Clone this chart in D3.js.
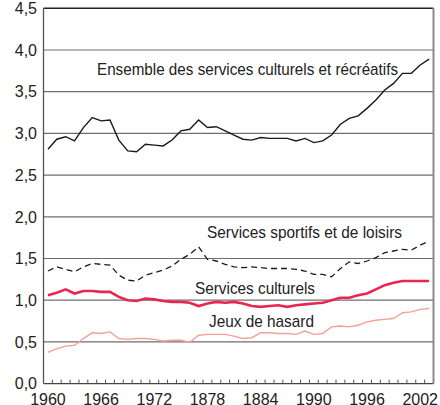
<!DOCTYPE html>
<html>
<head>
<meta charset="utf-8">
<script src="https://cdn.jsdelivr.net/npm/d3@7"></script>
<style>
  body { margin: 0; background: #fff; }
  svg { display: block; }
  .tick-label { font-family: "Liberation Sans", Arial, sans-serif; font-size: 16px; fill: #222; }
  .series-label { font-family: "Liberation Sans Narrow", "Liberation Sans", Arial, sans-serif; font-size: 17px; fill: #222; }
</style>
</head>
<body>
<svg id="chart" width="440" height="405"></svg>
<script>
const years = d3.range(1960, 2004);

const ensemble = [2.81, 2.93, 2.96, 2.91, 3.07, 3.19, 3.15, 3.16, 2.92, 2.79,
  2.78, 2.87, 2.86, 2.85, 2.92, 3.03, 3.05, 3.16, 3.07, 3.08,
  3.03, 2.98, 2.93, 2.92, 2.95, 2.94, 2.94, 2.94, 2.91, 2.94,
  2.89, 2.91, 2.98, 3.11, 3.18, 3.21, 3.30, 3.40, 3.52, 3.60,
  3.72, 3.72, 3.82, 3.89];

const sportifs = [1.35, 1.40, 1.37, 1.34, 1.40, 1.44, 1.43, 1.42, 1.30, 1.24,
  1.23, 1.30, 1.33, 1.36, 1.41, 1.49, 1.55, 1.64, 1.49, 1.47,
  1.43, 1.40, 1.39, 1.40, 1.39, 1.38, 1.38, 1.38, 1.37, 1.35,
  1.31, 1.31, 1.28, 1.38, 1.46, 1.44, 1.47, 1.51, 1.57, 1.59,
  1.61, 1.60, 1.66, 1.71];

const culturels = [1.06, 1.09, 1.13, 1.08, 1.11, 1.11, 1.10, 1.10, 1.04, 1.00,
  0.99, 1.02, 1.01, 0.99, 0.98, 0.98, 0.97, 0.93, 0.96, 0.98,
  0.97, 0.98, 0.96, 0.93, 0.92, 0.93, 0.94, 0.92, 0.94, 0.95,
  0.96, 0.97, 1.00, 1.03, 1.03, 1.06, 1.08, 1.13, 1.18, 1.21,
  1.23, 1.23, 1.23, 1.23];

const hasard = [0.375, 0.42, 0.45, 0.46, 0.54, 0.61, 0.60, 0.62, 0.54, 0.53,
  0.54, 0.54, 0.53, 0.51, 0.52, 0.52, 0.495, 0.58, 0.59, 0.59,
  0.59, 0.57, 0.54, 0.55, 0.61, 0.61, 0.60, 0.60, 0.59, 0.63,
  0.59, 0.60, 0.68, 0.69, 0.68, 0.70, 0.74, 0.76, 0.77, 0.78,
  0.85, 0.86, 0.89, 0.90];

const yTicks = [0, 0.5, 1, 1.5, 2, 2.5, 3, 3.5, 4, 4.5];
const xTickYears = [1960, 1966, 1972, 1978, 1984, 1990, 1996, 2002];
const xTickLabels = ['1960', '1966', '1972', '1878', '1884', '1990', '1996', '2002'];

const seriesNames = ['Ensemble des services culturels et récréatifs', 'Services sportifs et de loisirs', 'Services culturels', 'Jeux de hasard'];

const svg = d3.select('#chart');

const x = d3.scaleLinear()
  .domain([1959.5, 2003.5])
  .range([43.5, 433.5]);

const y = d3.scaleLinear()
  .domain([0, 4.5])
  .range([383.6, 8.3]);

// horizontal grid lines
svg.append('g')
  .selectAll('line')
  .data(yTicks.slice(1, -1))
  .enter()
  .append('line')
  .attr('x1', x(1959.5))
  .attr('x2', x(2003.5))
  .attr('y1', (d) => y(d))
  .attr('y2', (d) => y(d))
  .attr('stroke', '#6e6e6e')
  .attr('stroke-width', 1.2);

// frame: top dark, right gray
svg.append('line')
  .attr('x1', x(1959.5)).attr('x2', x(2003.5))
  .attr('y1', y(4.5)).attr('y2', y(4.5))
  .attr('stroke', '#222').attr('stroke-width', 1.6);

svg.append('line')
  .attr('x1', x(2003.5)).attr('x2', x(2003.5))
  .attr('y1', y(4.5)).attr('y2', y(0))
  .attr('stroke', '#8a8a8a').attr('stroke-width', 2);

// y axis
svg.append('line')
  .attr('x1', x(1959.5)).attr('x2', x(1959.5))
  .attr('y1', y(4.5)).attr('y2', y(0))
  .attr('stroke', '#555').attr('stroke-width', 1.3);

svg.append('g')
  .selectAll('text')
  .data(yTicks)
  .enter()
  .append('text')
  .attr('class', 'tick-label')
  .attr('x', 37)
  .attr('y', (d) => y(d))
  .attr('dy', '0.36em')
  .attr('text-anchor', 'end')
  .text((d) => d.toFixed(1).replace('.', ','));

// x axis with small inward ticks between years
svg.append('line')
  .attr('x1', x(1959.5)).attr('x2', x(2003.5))
  .attr('y1', y(0)).attr('y2', y(0))
  .attr('stroke', '#444').attr('stroke-width', 1.3);

svg.append('g')
  .selectAll('line')
  .data(d3.range(1960.5, 2003, 1))
  .enter()
  .append('line')
  .attr('x1', (d) => x(d))
  .attr('x2', (d) => x(d))
  .attr('y1', y(0))
  .attr('y2', y(0) - 4)
  .attr('stroke', '#555')
  .attr('stroke-width', 1);

svg.append('g')
  .selectAll('text')
  .data(xTickYears)
  .enter()
  .append('text')
  .attr('class', 'tick-label')
  .attr('x', (d) => x(d))
  .attr('y', 405)
  .attr('text-anchor', 'middle')
  .text((d, i) => xTickLabels[i]);

// lines
const line = d3.line()
  .x((d, i) => x(years[i]))
  .y((d) => y(d));

svg.append('path')
  .datum(hasard)
  .attr('d', line)
  .attr('fill', 'none')
  .attr('stroke', '#f5a096')
  .attr('stroke-width', 1.4);

svg.append('path')
  .datum(culturels)
  .attr('d', line)
  .attr('fill', 'none')
  .attr('stroke', '#e8264f')
  .attr('stroke-width', 2.6);

svg.append('path')
  .datum(sportifs)
  .attr('d', line)
  .attr('fill', 'none')
  .attr('stroke', '#1a1a1a')
  .attr('stroke-width', 1.3)
  .attr('stroke-dasharray', '6,4');

svg.append('path')
  .datum(ensemble)
  .attr('d', line)
  .attr('fill', 'none')
  .attr('stroke', '#1a1a1a')
  .attr('stroke-width', 1.4);

// series labels
const labelPos = [
  { x: 97, y: 75, w: 301 },
  { x: 207, y: 238, w: 195 },
  { x: 195, y: 294, w: 120 },
  { x: 209, y: 327, w: 105 }
];

svg.append('g')
  .selectAll('text')
  .data(seriesNames)
  .enter()
  .append('text')
  .attr('class', 'series-label')
  .attr('x', (d, i) => labelPos[i].x)
  .attr('y', (d, i) => labelPos[i].y)
  .attr('textLength', (d, i) => labelPos[i].w)
  .attr('lengthAdjust', 'spacingAndGlyphs')
  .text((d) => d);
</script>
</body>
</html>
